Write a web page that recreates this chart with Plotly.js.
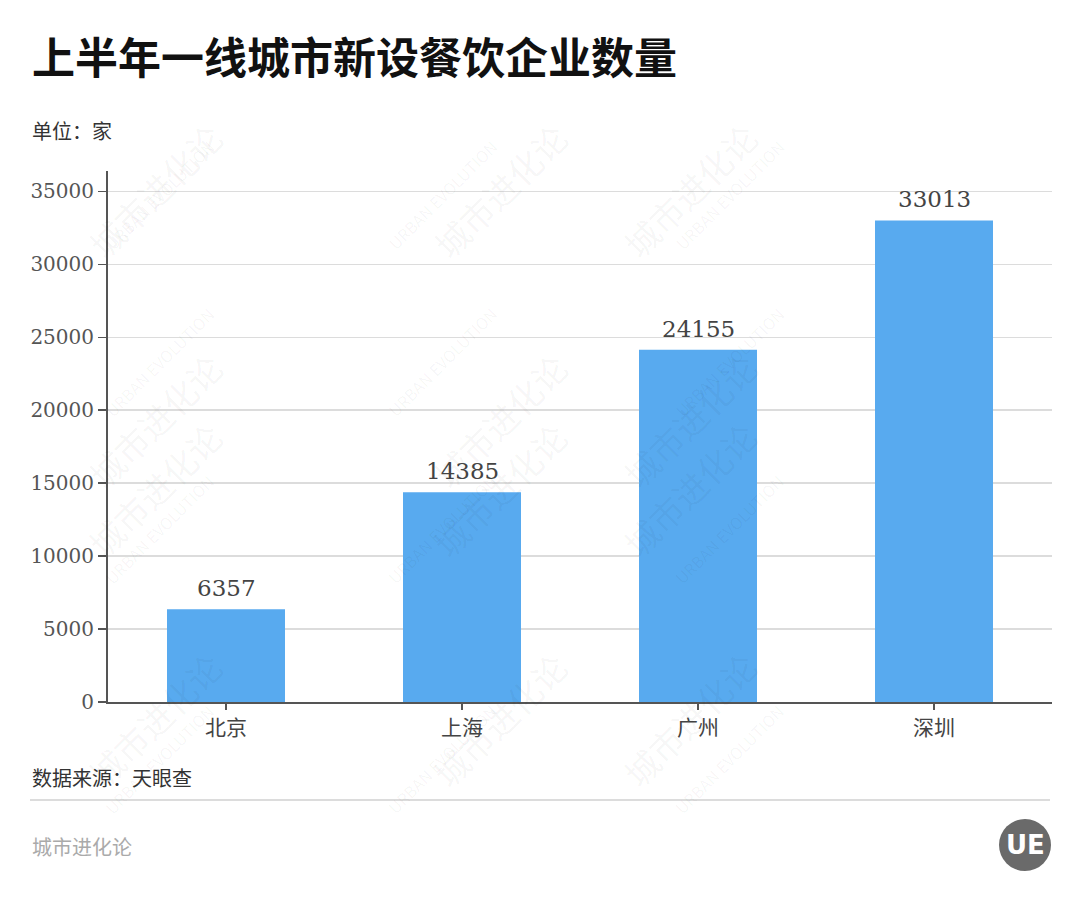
<!DOCTYPE html>
<html>
<head>
<meta charset="utf-8">
<script src="https://cdn.plot.ly/plotly-3.0.1.min.js"></script>
<style>html,body{margin:0;padding:0;background:#fff;}#chart{width:1080px;height:900px;}</style>
</head>
<body>
<div id="chart"></div>
<script>
const cities = ["北京", "上海", "广州", "深圳"];
const counts = [6357, 14385, 24155, 33013];
const yTicks = [0, 5000, 10000, 15000, 20000, 25000, 30000, 35000];

const titleText = "上半年一线城市新设餐饮企业数量";
const unitText = "单位：家";
const sourceText = "数据来源：天眼查";
const brandText = "城市进化论";

const cjk = '"Noto Sans CJK SC", "Noto Sans", sans-serif';
const serif = '"DejaVu Serif", "Liberation Serif", serif';

const trace = {
  type: "bar",
  x: cities,
  y: counts,
  width: 0.5,
  marker: {color: "#58aaef"},
  hoverinfo: "skip"
};

const px = x => (x - 108) / 944;
const py = y => (702 - y) / 531;

// watermarks (faint)
const wm = [];
const wmX = [75, 420, 770];
const wmY = [110, 340, 570, 800];
wmX.forEach(x => wmY.forEach(y => {
  wm.push({xref: "paper", yref: "paper", x: px(x), y: py(y),
    text: "城市进化论", showarrow: false, textangle: -45,
    font: {family: cjk, size: 34, color: "rgba(0,0,0,0.045)"}});
  wm.push({xref: "paper", yref: "paper", x: px(x + 22), y: py(y + 22),
    text: "URBAN EVOLUTION", showarrow: false, textangle: -45,
    font: {family: cjk, size: 16, color: "rgba(0,0,0,0.045)"}});
}));

// value labels above bars, positioned through data coordinates
const valueLabels = cities.map((c, i) => ({
  xref: "x", yref: "y", x: c, y: counts[i],
  text: String(counts[i]), showarrow: false,
  yanchor: "middle", yshift: 21,
  font: {family: serif, size: 23, color: "#444"}
}));

const annotations = wm.concat(valueLabels, [
  {xref: "paper", yref: "paper", x: px(30), y: py(55), xanchor: "left", yanchor: "middle",
   text: "<b>" + titleText + "</b>", showarrow: false,
   font: {family: cjk, size: 43, color: "#111"}},
  {xref: "paper", yref: "paper", x: px(30), y: py(130), xanchor: "left", yanchor: "middle",
   text: unitText, showarrow: false, font: {family: cjk, size: 20, color: "#333"}},
  {xref: "paper", yref: "paper", x: px(30), y: py(777), xanchor: "left", yanchor: "middle",
   text: sourceText, showarrow: false, font: {family: cjk, size: 20, color: "#333"}},
  {xref: "paper", yref: "paper", x: px(30), y: py(846), xanchor: "left", yanchor: "middle",
   text: brandText, showarrow: false, font: {family: cjk, size: 20, color: "#aaa"}},
  {xref: "paper", yref: "paper", x: px(1025), y: py(845), xanchor: "center", yanchor: "middle",
   text: "<b>UE</b>", showarrow: false, font: {family: '"DejaVu Sans", sans-serif', size: 26, color: "#fff"}}
]);

const shapes = [
  {type: "line", xref: "paper", yref: "paper", x0: px(30), x1: px(1050), y0: py(800), y1: py(800),
   line: {color: "#dcdcdc", width: 2}},
  {type: "circle", xref: "paper", yref: "paper", x0: px(999), x1: px(1051), y0: py(871), y1: py(819),
   fillcolor: "#6a6a6a", line: {width: 0}}
];

const layout = {
  width: 1080, height: 900,
  margin: {l: 108, r: 28, t: 171, b: 198, pad: 0},
  paper_bgcolor: "#fff", plot_bgcolor: "#fff",
  showlegend: false,
  xaxis: {
    type: "category", range: [-0.5, 3.5],
    showline: true, linecolor: "#555", linewidth: 2,
    ticks: "outside", ticklen: 6, tickcolor: "#555", tickwidth: 1.5,
    showgrid: false, zeroline: false,
    tickfont: {family: cjk, size: 21, color: "#444"}
  },
  yaxis: {
    range: [0, 36400], tickvals: yTicks, ticktext: yTicks.map(String),
    showline: true, linecolor: "#555", linewidth: 2,
    ticks: "outside", ticklen: 8, tickcolor: "#555", tickwidth: 1.5,
    showgrid: true, gridcolor: "#dcdcdc", gridwidth: 1.5,
    zeroline: false,
    tickfont: {family: serif, size: 20, color: "#555"}
  },
  annotations: annotations,
  shapes: shapes
};

Plotly.newPlot("chart", [trace], layout, {displayModeBar: false, staticPlot: true});
</script>
</body>
</html>
